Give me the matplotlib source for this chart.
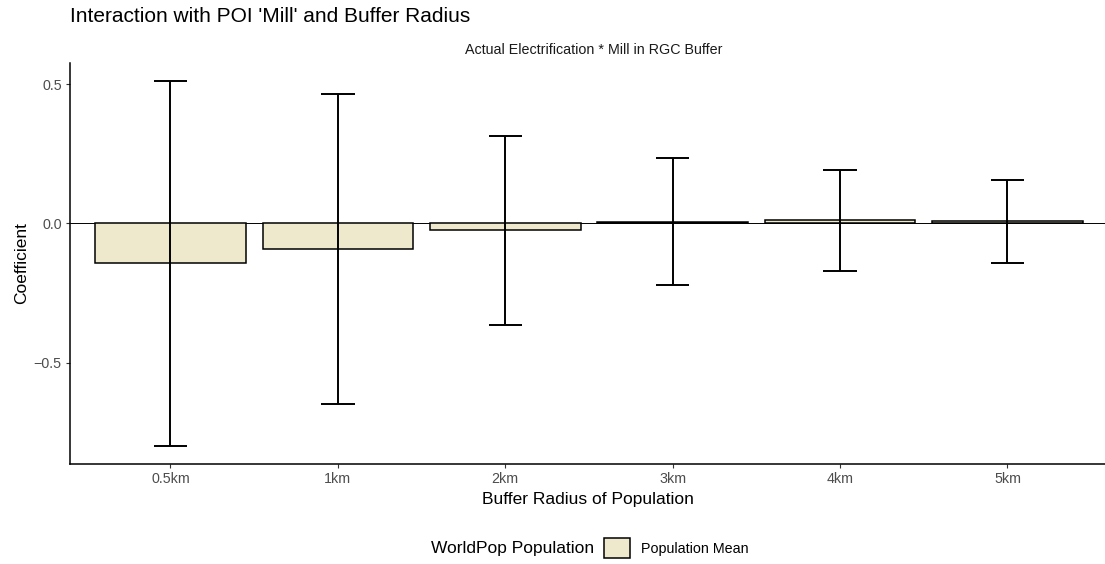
import matplotlib
matplotlib.use('Agg')
import matplotlib.pyplot as plt
from matplotlib.patches import Patch

plt.rcParams['font.family'] = ['Liberation Sans', 'DejaVu Sans']

# values
radius = ['0.5km', '1km', '2km', '3km', '4km', '5km']
coef = [-0.143, -0.092, -0.024, 0.006, 0.012, 0.009]
ci_low = [-0.797, -0.647, -0.364, -0.221, -0.171, -0.140]
ci_high = [0.510, 0.463, 0.312, 0.236, 0.193, 0.157]
yticks = [-0.5, 0.0, 0.5]
ytick_labels = ['\u22120.5', '0.0', '0.5']

fill = '#EEE8CD'
W, H = 1105, 564

fig = plt.figure(figsize=(W / 100, H / 100), dpi=100)
# panel: x 70..1105 px, y 63..464 px
ax = fig.add_axes([70 / W, 1 - 464 / H, (1105 - 70) / W, (464 - 63) / H])

x = list(range(1, len(radius) + 1))
ax.axhline(0, color='black', lw=0.7, zorder=1)
ax.bar(x, coef, width=0.9, color=fill, edgecolor='black', linewidth=1.1, zorder=2)
ax.vlines(x, ci_low, ci_high, color='black', lw=1.4, zorder=3)
xl = [v - 0.1 for v in x]
xr = [v + 0.1 for v in x]
ax.hlines(ci_low, xl, xr, color='black', lw=1.4, zorder=3)
ax.hlines(ci_high, xl, xr, color='black', lw=1.4, zorder=3)

ax.set_xlim(0.4, 0.4 + 1035 / 167.4)
lo = min(ci_low); hi = max(ci_high)
pad = (hi - lo) * 0.05
ax.set_ylim(lo - pad, hi + pad)

ax.set_xticks(x)
ax.set_xticklabels(radius)
ax.set_yticks(yticks)
ax.set_yticklabels(ytick_labels)
ax.tick_params(axis='both', length=3, width=0.8, color='#333333',
               labelcolor='#4D4D4D', labelsize=10.3, pad=3)
for s in ['top', 'right']:
    ax.spines[s].set_visible(False)
for s in ['left', 'bottom']:
    ax.spines[s].set_linewidth(1.1)

ax.set_xlabel('Buffer Radius of Population', fontsize=12.5, labelpad=4)
ax.set_ylabel('Coefficient', fontsize=12.5, labelpad=3)

fig.text(70 / W, 1 - 22 / H, "Interaction with POI 'Mill' and Buffer Radius",
         fontsize=15, va='baseline', ha='left')
fig.text(594 / W, 1 - 54 / H, 'Actual Electrification * Mill in RGC Buffer',
         fontsize=10.3, va='baseline', ha='center', color='#1A1A1A')

# legend at bottom, title to the left of the key
fig.text(594 / W, 1 - 548 / H, 'WorldPop Population', fontsize=12.5,
         ha='right', va='center')
handle = Patch(facecolor=fill, edgecolor='black', linewidth=1.1)
fig.legend(handles=[handle], labels=['Population Mean'], loc='center left',
           bbox_to_anchor=(604 / W, 1 - 548 / H), frameon=False, fontsize=10.3,
           handlelength=1.85, handleheight=1.85, handletextpad=0.75,
           borderpad=0, borderaxespad=0)

fig.savefig('out.png', dpi=100)
